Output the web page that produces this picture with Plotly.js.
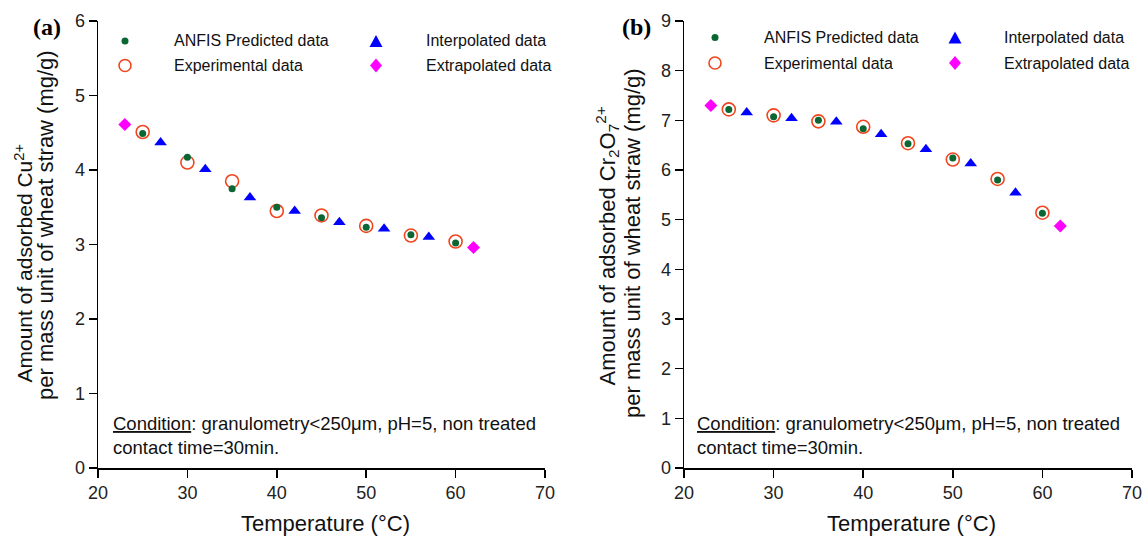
<!DOCTYPE html>
<html>
<head>
<meta charset="utf-8">
<script src="https://cdn.plot.ly/plotly-3.0.1.min.js"></script>
<style>html,body{margin:0;padding:0;background:#fff}#chart{width:1147px;height:537px}</style>
</head>
<body>
<div id="chart"></div>
<script>
// ---- Data (a) Cu2+ ----
const tempsMeasured = [25, 30, 35, 40, 45, 50, 55, 60];
const tempsInterp = [27, 32, 37, 42, 47, 52, 57];
const tempsExtrap = [23, 62];

const cuANFIS = [4.49, 4.17, 3.75, 3.50, 3.36, 3.23, 3.13, 3.02];
const cuExp = [4.51, 4.10, 3.85, 3.45, 3.39, 3.25, 3.12, 3.04];
const cuInterp = [4.37, 4.01, 3.63, 3.45, 3.30, 3.21, 3.10];
const cuExtrap = [4.61, 2.96];

// ---- Data (b) Cr2O7 2+ ----
const crANFIS = [7.22, 7.07, 7.00, 6.83, 6.53, 6.24, 5.80, 5.13];
const crExp = [7.22, 7.10, 6.98, 6.87, 6.54, 6.21, 5.82, 5.14];
const crInterp = [7.16, 7.04, 6.97, 6.72, 6.42, 6.13, 5.54];
const crExtrap = [7.30, 4.87];

const seriesNames = ['ANFIS Predicted data', 'Interpolated data', 'Experimental data', 'Extrapolated data'];
const xTicks = [20, 30, 40, 50, 60, 70];

const FONT = 'Liberation Sans, Arial, sans-serif';
const C_ANFIS = '#0a6632', C_EXP = '#f0461e', C_INT = '#0000ff', C_EXT = '#ff00ff';
const mkANFIS = {symbol: 'circle', size: 7, color: C_ANFIS};
const mkExp = {symbol: 'circle-open', size: 13, color: C_EXP, line: {width: 1.6, color: C_EXP}};
const mkInterp = {symbol: 'triangle-up', size: 11, color: C_INT};
const mkExtrap = {symbol: 'diamond', size: 10, color: C_EXT};

function panel(xa, ya, anfis, interp, exp, extrap) {
  return [
    {x: tempsMeasured, y: exp, mode: 'markers', type: 'scatter', name: seriesNames[2], marker: mkExp, xaxis: xa, yaxis: ya},
    {x: tempsMeasured, y: anfis, mode: 'markers', type: 'scatter', name: seriesNames[0], marker: mkANFIS, xaxis: xa, yaxis: ya},
    {x: tempsInterp, y: interp, mode: 'markers', type: 'scatter', name: seriesNames[1], marker: mkInterp, xaxis: xa, yaxis: ya},
    {x: tempsExtrap, y: extrap, mode: 'markers', type: 'scatter', name: seriesNames[3], marker: mkExtrap, xaxis: xa, yaxis: ya}
  ];
}

const data = [].concat(
  panel('x', 'y', cuANFIS, cuInterp, cuExp, cuExtrap),
  panel('x2', 'y2', crANFIS, crInterp, crExp, crExtrap)
);

const W = 1147, H = 537;
const px = v => v / W;
const py = v => 1 - v / H;
const yDom = [py(468), py(21)];

const axBase = {
  showgrid: false, zeroline: false, showline: true, linecolor: '#000', linewidth: 1.5,
  ticks: 'outside', ticklen: 8, tickwidth: 1.5, tickcolor: '#000',
  tickfont: {family: FONT, size: 18, color: '#222'}, automargin: false
};

// ---- legend keys (drawn as decoration shapes) ----
function legendKeys(symX1, symX2, row1, row2) {
  const s = [];
  const r = 3.5;
  s.push({type: 'circle', xref: 'paper', yref: 'paper', x0: px(symX1 - r), x1: px(symX1 + r), y0: py(row1 + r), y1: py(row1 - r),
    fillcolor: C_ANFIS, line: {width: 0}});
  const R = 6;
  s.push({type: 'circle', xref: 'paper', yref: 'paper', x0: px(symX1 - R), x1: px(symX1 + R), y0: py(row2 + R), y1: py(row2 - R),
    fillcolor: 'rgba(0,0,0,0)', line: {width: 1.6, color: C_EXP}});
  const tw = 6.5, th = 6;
  s.push({type: 'path', xref: 'paper', yref: 'paper',
    path: `M ${px(symX2 - tw)},${py(row1 + th)} L ${px(symX2 + tw)},${py(row1 + th)} L ${px(symX2)},${py(row1 - th)} Z`,
    fillcolor: C_INT, line: {width: 0}});
  const dw = 6, dh = 7;
  s.push({type: 'path', xref: 'paper', yref: 'paper',
    path: `M ${px(symX2 - dw)},${py(row2)} L ${px(symX2)},${py(row2 - dh)} L ${px(symX2 + dw)},${py(row2)} L ${px(symX2)},${py(row2 + dh)} Z`,
    fillcolor: C_EXT, line: {width: 0}});
  return s;
}
function legendTexts(txtX1, txtX2, row1, row2) {
  const f = {family: FONT, size: 16, color: '#111'};
  const mk = (t, x, y) => ({text: t, xref: 'paper', yref: 'paper', x: px(x), y: py(y), xanchor: 'left', yanchor: 'middle', showarrow: false, font: f});
  return [mk(seriesNames[0], txtX1, row1), mk(seriesNames[2], txtX1, row2), mk(seriesNames[1], txtX2, row1), mk(seriesNames[3], txtX2, row2)];
}

const titleFont = {family: FONT, size: 22, color: '#111'};
const yTitleFont = {family: FONT, size: 22, color: '#111'};
const condText = '<u>Condition</u>: granulometry<250μm, pH=5, non treated<br>contact time=30min.';

const annotations = [].concat(
  legendTexts(172, 424, 41, 65.5),
  legendTexts(762, 1002, 37.5, 63),
  [
    {text: '<b>(a)</b>', xref: 'paper', yref: 'paper', x: px(47), y: py(27), xanchor: 'center', yanchor: 'middle', showarrow: false,
      font: {family: 'Liberation Serif, Times New Roman, serif', size: 24, color: '#000'}},
    {text: '<b>(b)</b>', xref: 'paper', yref: 'paper', x: px(636), y: py(27), xanchor: 'center', yanchor: 'middle', showarrow: false,
      font: {family: 'Liberation Serif, Times New Roman, serif', size: 24, color: '#000'}},
    {text: condText, xref: 'paper', yref: 'paper', x: px(111), y: py(411), xanchor: 'left', yanchor: 'top', align: 'left', showarrow: false,
      font: {family: FONT, size: 18.5, color: '#111'}},
    {text: condText, xref: 'paper', yref: 'paper', x: px(695), y: py(411), xanchor: 'left', yanchor: 'top', align: 'left', showarrow: false,
      font: {family: FONT, size: 18.5, color: '#111'}},
    {text: 'Temperature (°C)', xref: 'paper', yref: 'paper', x: px(325), y: 0, xanchor: 'center', yanchor: 'bottom', borderpad: 0, showarrow: false, font: titleFont},
    {text: 'Temperature (°C)', xref: 'paper', yref: 'paper', x: px(911), y: 0, xanchor: 'center', yanchor: 'bottom', borderpad: 0, showarrow: false, font: titleFont},
    {text: 'Amount of adsorbed Cu<sup>2+</sup>', xref: 'paper', yref: 'paper', x: px(23), y: py(385), xanchor: 'center', yanchor: 'bottom', textangle: -90, showarrow: false,
      font: {family: FONT, size: 21, color: '#111'}},
    {text: 'per mass unit of wheat straw (mg/g)', xref: 'paper', yref: 'paper', x: px(45), y: py(48), xanchor: 'center', yanchor: 'top', textangle: -90, showarrow: false, font: yTitleFont},
    {text: 'Amount of adsorbed Cr<sub>2</sub>O<sub>7</sub><sup>2+</sup>', xref: 'paper', yref: 'paper', x: px(607), y: py(388), xanchor: 'center', yanchor: 'bottom', textangle: -90, showarrow: false, font: yTitleFont},
    {text: 'per mass unit of wheat straw (mg/g)', xref: 'paper', yref: 'paper', x: px(632), y: py(66), xanchor: 'center', yanchor: 'top', textangle: -90, showarrow: false, font: yTitleFont}
  ]
);

const layout = {
  width: W, height: H,
  margin: {l: 0, r: 0, t: 0, b: 0},
  paper_bgcolor: '#fff', plot_bgcolor: '#fff',
  showlegend: false,
  xaxis: Object.assign({}, axBase, {domain: [px(98), px(545)], range: [20, 70], tickvals: xTicks, anchor: 'y'}),
  yaxis: Object.assign({}, axBase, {domain: yDom, range: [0, 6], dtick: 1, anchor: 'x'}),
  xaxis2: Object.assign({}, axBase, {domain: [px(684), px(1132)], range: [20, 70], tickvals: xTicks, anchor: 'y2'}),
  yaxis2: Object.assign({}, axBase, {domain: yDom, range: [0, 9], dtick: 1, anchor: 'x2'}),
  shapes: [].concat(legendKeys(125, 376, 41, 65.5), legendKeys(715, 955, 37.5, 63)),
  annotations: annotations
};

Plotly.newPlot('chart', data, layout, {displayModeBar: false, staticPlot: true});
</script>
</body>
</html>
